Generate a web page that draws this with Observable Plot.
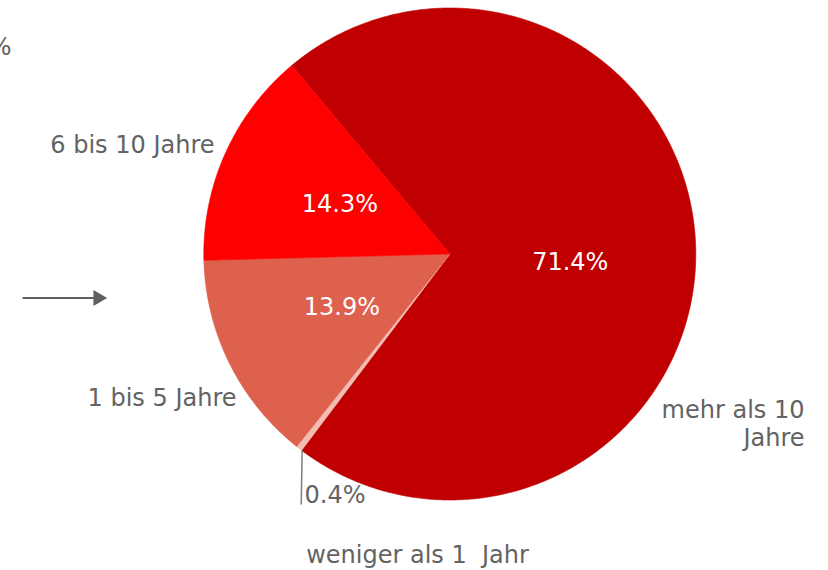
<!DOCTYPE html>
<html>
<head>
<meta charset="utf-8">
<script src="https://cdn.jsdelivr.net/npm/d3@7"></script>
<script src="https://cdn.jsdelivr.net/npm/@observablehq/plot@0.6"></script>
<style>
  html, body { margin: 0; padding: 0; background: #fff; }
  #chart svg { display: block; }
</style>
</head>
<body>
<div id="chart"></div>
<script>
// ---- data ----
const categories = ["mehr als 10 Jahre", "weniger als 1\u00a0 Jahr", "1 bis 5 Jahre", "6 bis 10 Jahre"];
const shares = [71.4, 0.4, 13.9, 14.3];
const shareLabels = ["71.4%", "0.4%", "13.9%", "14.3%"];
const outsideLabels = ["mehr als 10\nJahre", "0.4%", "1 bis 5 Jahre", "6 bis 10 Jahre"];

// ---- styles / layout ----
const sliceColors = ["#C00000", "#F2BCB2", "#DD614C", "#FF0000"];
const W = 828, H = 570;
const cx = 449.3, cy = 253.5, R = 246;
const startDeg = -40;
const font = "DejaVu Sans";
const fs = 24;
const gray = "#636363";
const px = (x) => (x - cx) / R;
const py = (y) => (cy - y) / R;

// pie geometry from the data
const pie = d3.pie().sort(null).value(d => d.share)
  .startAngle(startDeg * Math.PI / 180)
  .endAngle(startDeg * Math.PI / 180 + 2 * Math.PI);
const rows = categories.map((c, i) => ({category: c, share: shares[i], label: shareLabels[i], outside: outsideLabels[i], color: sliceColors[i]}));
const arcs = pie(rows);

function slicePoints(a) {
  const pts = [{x: 0, y: 0}];
  const n = Math.max(4, Math.ceil((a.endAngle - a.startAngle) / (Math.PI / 360)));
  for (let k = 0; k <= n; k++) {
    const t = a.startAngle + (a.endAngle - a.startAngle) * k / n;
    pts.push({x: Math.sin(t), y: Math.cos(t)});
  }
  pts.push({x: 0, y: 0});
  return pts;
}

const sliceMarks = arcs.map(a => Plot.line(slicePoints(a), {
  x: "x", y: "y", fill: a.data.color, stroke: a.data.color, strokeWidth: 0.6, curve: "linear"
}));

// inside percentage labels at 0.49 R along mid angle (skip the tiny slice)
const inside = arcs.filter(a => a.data.share > 5).map(a => {
  const m = (a.startAngle + a.endAngle) / 2;
  return {x: 0.49 * Math.sin(m), y: 0.49 * Math.cos(m), text: a.data.label, big: a.data.share > 50};
});

// outside label placements (pixel layout of the reference)
const outsidePlacement = [
  {x: px(804), y: py(422.5), anchor: "end"},
  {x: px(304), y: py(494.5), anchor: "start"},
  {x: px(236), y: py(396.5), anchor: "end"},
  {x: px(214), y: py(143.5), anchor: "end"}
];
const outside = arcs.map((a, i) => ({...outsidePlacement[i], text: a.data.outside}));

const chart = Plot.plot({
  width: W,
  height: H,
  margin: 0,
  x: {domain: [-cx / R, (W - cx) / R], range: [0, W], axis: null},
  y: {domain: [-(H - cy) / R, cy / R], range: [H, 0], axis: null},
  style: {fontFamily: font, background: "#fff"},
  marks: [
    ...sliceMarks,
    Plot.text(inside.filter(d => !d.big), {x: "x", y: "y", text: "text", fill: "#fff", fontSize: fs, fontFamily: font}),
    Plot.text(inside.filter(d => d.big), {x: "x", y: "y", text: "text", fill: "#fff", fontSize: fs, fontFamily: font, dy: 11}),
    Plot.text(outside.filter(d => d.anchor === "end"), {x: "x", y: "y", text: "text", fill: gray, fontSize: fs, fontFamily: font, textAnchor: "end", lineHeight: 1.17}),
    Plot.text(outside.filter(d => d.anchor === "start"), {x: "x", y: "y", text: "text", fill: gray, fontSize: fs, fontFamily: font, textAnchor: "start"}),
    // category of the tiny slice below the pie
    Plot.text([categories[1]], {x: px(417), y: py(554.5), text: d => d, fill: gray, fontSize: fs, fontFamily: font}),
    // leader line for the tiny slice
    Plot.link([0], {x1: px(301.7), y1: py(450), x2: px(300.7), y2: py(504), stroke: "#7F7F7F", strokeWidth: 1.5}),
    // remnant "%" at top-left and arrow at left
    Plot.text(["%"], {x: px(11), y: py(46.5), text: d => d, fill: gray, fontSize: fs, fontFamily: font, textAnchor: "end"}),
    Plot.link([0], {x1: px(22), y1: py(297.5), x2: px(95), y2: py(297.5), stroke: "#606060", strokeWidth: 2}),
    Plot.dot([0], {x: px(97.5), y: py(297.5), symbol: "triangle", r: 5.9, fill: "#606060", stroke: "none", rotate: 90})
  ]
});
document.getElementById("chart").appendChild(chart);
</script>
</body>
</html>
